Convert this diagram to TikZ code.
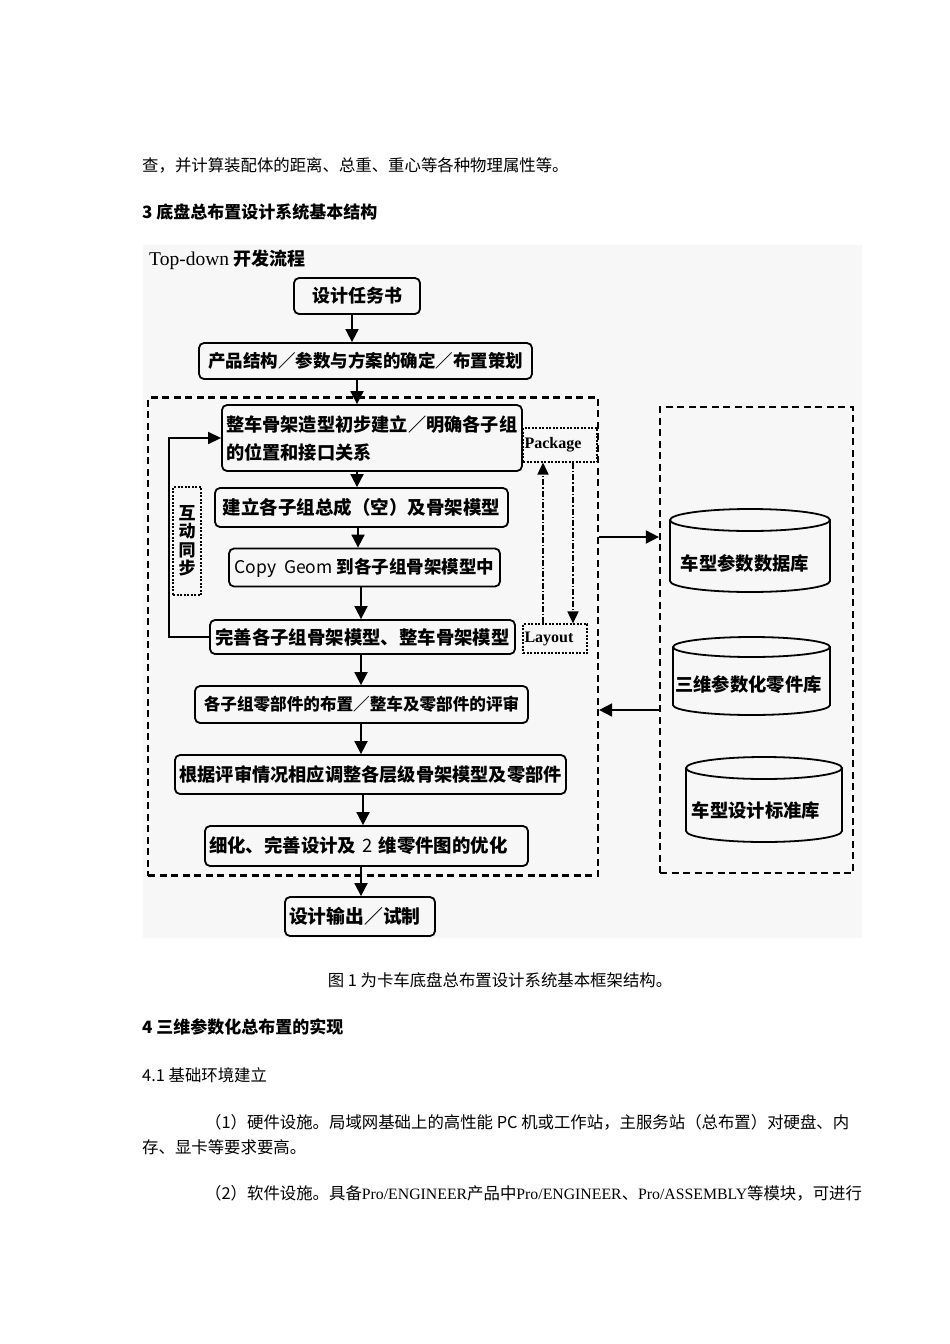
\documentclass[tikz,border=0pt]{standalone}
\usepackage{fontspec}
\usetikzlibrary{arrows.meta}
\newfontfamily\cjk{Noto Sans CJK SC}
\newfontfamily\lat{Liberation Serif}
\newcommand{\dgf}{\cjk\bfseries\fontsize{17.5}{20}\selectfont}
\newcommand{\fs}[1]{\fontsize{#1}{#1}\selectfont}
\newcommand{\bdf}{\cjk\fontsize{16.4}{18}\selectfont}
\newcommand{\hdf}{\cjk\bfseries\fontsize{17}{18}\selectfont}
\tikzset{
  box/.style={draw, line width=1.8pt, rounded corners=5pt, inner sep=0pt, font=\dgf},
  lbox/.style={box, align=left, inner xsep=4pt},
  arr/.style={line width=1.8pt, -{Triangle[length=13pt,width=13pt]}},
  fb/.style={line width=1.5pt, -{Triangle[length=13pt,width=12pt]}},
  bigdash/.style={draw, line width=2.2pt, dash pattern=on 7pt off 4.5pt, inner sep=0pt},
  dotbox/.style={draw, line width=1.1pt, dash pattern=on 2pt off 1.5pt, inner sep=0pt},
  dda/.style={line width=1.5pt, dash pattern=on 6pt off 2pt on 1.5pt off 2pt, -{Triangle[length=12pt,width=11pt]}},
  cyl/.style={line width=1.8pt},
  cyltext/.style={inner sep=0pt, font=\cjk\bfseries\fs{18.3}},
  body/.style={anchor=west, inner sep=0pt, font=\bdf},
  head/.style={anchor=west, inner sep=0pt, font=\hdf},
}
\begin{document}
\begin{tikzpicture}[x=1pt,y=-1pt]
\useasboundingbox (0,0) rectangle (950,1344);
\fill[white] (0,0) rectangle (950,1344);

% body text above
\node[body] (t1) at (142,165) {查，并计算装配体的距离、总重、重心等各种物理属性等。};
\node[head] (h3) at (142,212) {3 底盘总布置设计系统基本结构};

% diagram background
\fill[black!3] (143,245) rectangle (862,938);

\node[anchor=west, inner sep=0pt] (title) at (149,260)
  {\lat\fs{19.5}Top-down \cjk\bfseries\fs{18}开发流程};

% dashed frames
\node[bigdash, minimum width=450pt, minimum height=478pt] (main) at (373,636.5) {};
\node[bigdash, minimum width=193pt, minimum height=466pt] (lib) at (756.5,640) {};

% flow boxes
\node[box, minimum width=126pt, minimum height=36pt, font=\cjk\bfseries\fs{18}] (b1) at (357,296) {设计任务书};
\node[box, minimum width=333pt, minimum height=36pt] (b2) at (365.5,361) {产品结构／参数与方案的确定／布置策划};
\node[lbox, text width=292pt, minimum height=66pt, font=\cjk\bfseries\fs{18.2},
      execute at begin node={\setlength{\baselineskip}{28pt}}] (b3) at (372,438)
  {整车骨架造型初步建立／明确各子组\\的位置和接口关系};
\node[box, minimum width=293pt, minimum height=39pt, font=\cjk\bfseries\fs{18.5}] (b4) at (361.5,507.5) {建立各子组总成（空）及骨架模型};
\node[box, minimum width=271pt, minimum height=38pt] (b5) at (364.5,567.5) {{\mdseries Copy\ \ Geom} 到各子组骨架模型中};
\node[box, minimum width=305pt, minimum height=34pt, font=\cjk\bfseries\fs{18.4}] (b6) at (362.5,637) {完善各子组骨架模型、整车骨架模型};
\node[box, minimum width=333pt, minimum height=37pt, font=\cjk\bfseries\fs{16.6}] (b7) at (361.5,704.5) {各子组零部件的布置／整车及零部件的评审};
\node[box, minimum width=391pt, minimum height=39pt, font=\cjk\bfseries\fs{18.2}] (b8) at (370.5,774.5) {根据评审情况相应调整各层级骨架模型及零部件};
\node[lbox, text width=315pt, minimum height=40pt, font=\cjk\bfseries\fs{18.4}] (b9) at (366.5,846) {细化、完善设计及 {\mdseries 2} 维零件图的优化};
\node[lbox, text width=142pt, minimum height=39pt, font=\cjk\bfseries\fs{18.8}] (b10) at (360,916.5) {设计输出／试制};

% side boxes
\node[dotbox, text width=71pt, align=left, inner xsep=1.5pt, minimum height=34pt,
      font=\lat\bfseries\fs{16}] (pkg) at (560,445) {Package};
\node[dotbox, text width=61pt, align=left, inner xsep=1.5pt, minimum height=29pt,
      font=\lat\bfseries\fs{16}] (lay) at (555,638.5) {Layout};
\node[dotbox, minimum width=28pt, minimum height=108pt, align=center,
      font=\cjk\bfseries\fontsize{17}{18.5}\selectfont] (sync) at (187,541) {互\\动\\同\\步};

% flow arrows
\draw[arr] (b1.south -| 352,0) -- (b2.north -| 352,0);
\draw[arr] (b2.south -| 357,0) -- (b3.north -| 357,0);
\draw[arr] (b3.south -| 357,0) -- (b4.north -| 357,0);
\draw[arr] (b4.south -| 358,0) -- (b5.north -| 358,0);
\draw[arr] (b5.south -| 361,0) -- (b6.north -| 361,0);
\draw[arr] (b6.south -| 361,0) -- (b7.north -| 361,0);
\draw[arr] (b7.south -| 361,0) -- (b8.north -| 361,0);
\draw[arr] (b8.south -| 363,0) -- (b9.north -| 363,0);
\draw[arr] (b9.south -| 361,0) -- (b10.north -| 361,0);

% feedback loop
\draw[fb] (b6.west) -- ++(-40,0) |- (b3.west);

% package / layout
\draw[dda] (lay.north -| 543,0) -- (pkg.south -| 543,0);
\draw[dda] (pkg.south -| 573,0) -- (lay.north -| 573,0);

% between frames
\draw[arr] (main.east |- 0,537) -- (lib.west |- 0,537);
\draw[arr] (lib.west |- 0,710) -- (main.east |- 0,710);

% cylinders
\node[cyltext] (c1) at (745,563) {车型参数数据库};
\draw[cyl] (750,520) ellipse [x radius=80pt, y radius=11pt];
\draw[cyl] (670,520) -- (670,581) arc[start angle=180, end angle=360, x radius=80pt, y radius=11pt] -- (830,520);

\node[cyltext] (c2) at (748.5,685) {三维参数化零件库};
\draw[cyl] (751.5,647) ellipse [x radius=78.5pt, y radius=10pt];
\draw[cyl] (673,647) -- (673,705) arc[start angle=180, end angle=360, x radius=78.5pt, y radius=10pt] -- (830,647);

\node[cyltext] (c3) at (756,810) {车型设计标准库};
\draw[cyl] (764,768) ellipse [x radius=78pt, y radius=11pt];
\draw[cyl] (686,768) -- (686,831) arc[start angle=180, end angle=360, x radius=78pt, y radius=11pt] -- (842,768);

% body text below
\node[inner sep=0pt, font=\bdf] (cap) at (500,980) {图 1 为卡车底盘总布置设计系统基本框架结构。};
\node[head] (h4) at (142,1027) {4 三维参数化总布置的实现};
\node[body] (h41) at (142,1075) {4.1 基础环境建立};
\node[body] (p1) at (205,1122) {（1）硬件设施。局域网基础上的高性能 PC 机或工作站，主服务站（总布置）对硬盘、内};
\node[body] (p1b) at (142,1147) {存、显卡等要求要高。};
\node[body] (p2) at (205,1193) {（2）软件设施。具备{\lat\fs{15.8}Pro/ENGINEER}产品中{\lat\fs{15.8}Pro/ENGINEER}、{\lat\fs{15.8}Pro/ASSEMBLY}等模块，可进行};
\end{tikzpicture}
\end{document}
